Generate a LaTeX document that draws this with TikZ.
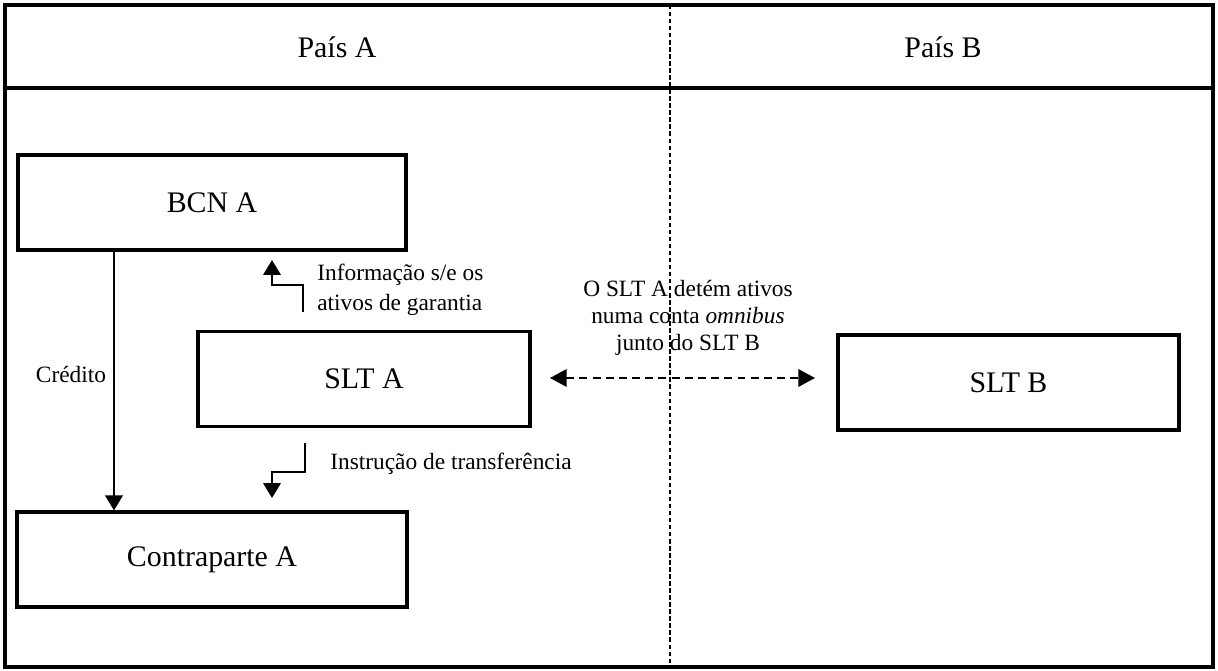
\documentclass[tikz,border=0pt]{standalone}
\usepackage{fontspec}
\setmainfont{Liberation Serif}
\usetikzlibrary{arrows.meta,positioning}

\tikzset{
  box/.style={draw,line width=1.8pt,minimum height=1.9cm,inner sep=0pt,font=\fontsize{17}{20}\selectfont},
  head/.style={inner sep=0pt,font=\fontsize{17}{20}\selectfont},
  lbl/.style={inner sep=0pt,font=\fontsize{13.3}{16.8}\selectfont},
  tip/.style={line width=1pt,-{Triangle[length=8.5pt,width=10pt]}},
  frame/.style={line width=1.8pt}
}

\begin{document}
\begin{tikzpicture}[x=0.02cm,y=-0.02cm]

\useasboundingbox (0,0) rectangle (1218,671);

\draw[frame] (5,5) rectangle (1213,667);

\draw[frame] (5,88) -- (1213,88);

\draw[line width=0.6pt,dash pattern=on 2.5pt off 1.5pt] (670,5) -- (670,667);

\node[head] (paisA) at (337,47) {País A};

\node[head] (paisB) at (943,47) {País B};

\node[box,minimum width=7.76cm] (bcn) at (212,202.5) {BCN A};

\node[box,minimum width=6.64cm] (sltA) at (364,379) {SLT A};

\node[box,minimum width=7.8cm] (ctp) at (212,559.5) {Contraparte A};

\node[box,minimum width=6.82cm] (sltB) at (1008.5,382.5) {SLT B};

\coordinate (cr) at (114,0);

\draw[tip] (cr |- bcn.south) -- (cr |- ctp.north);

\node[lbl] (credito) at (71,374) {Crédito};

\coordinate (inf1) at (303,312);

\coordinate (inf2) at (272,260);

\draw[tip] (inf1) -- (303,285) -| (inf2);

\node[lbl,align=left,anchor=west] (info) at (317,290) {Informação s/e os\\ativos de garantia};

\coordinate (ins1) at (305,443);

\coordinate (ins2) at (272,498);

\draw[tip] (ins1) -- (305,472) -| (ins2);

\node[lbl,anchor=west] (instr) at (330,464) {Instrução de transferência};

\coordinate (omA) at (550,378);

\coordinate (omB) at (815,378);

\draw[line width=1pt,dash pattern=on 4.5pt off 3pt,{Triangle[length=9.5pt,width=10pt]}-{Triangle[length=9.5pt,width=10pt]}] (omA) -- (omB);

\node[lbl,align=center,font=\fontsize{13.3}{15.5}\selectfont] (omn) at (688,318) {O SLT A detém ativos\\numa conta \textit{omnibus}\\junto do SLT B};

\end{tikzpicture}
\end{document}
